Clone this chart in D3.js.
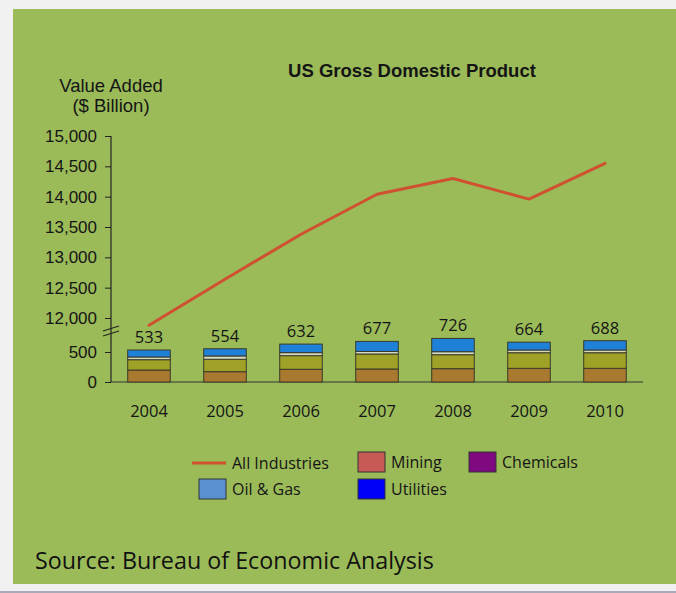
<!DOCTYPE html>
<html><head><meta charset="utf-8">
<script src="https://cdn.jsdelivr.net/npm/d3@7"></script>
<style>html,body{margin:0;padding:0;background:#f0f0f0;}svg{display:block;}</style>
</head><body>
<svg id="c" width="676" height="593"></svg>
<script>
const years = ["2004","2005","2006","2007","2008","2009","2010"];
const allIndustries = [11880, 12640, 13380, 14040, 14300, 13960, 14550];
const barTotals = [533, 554, 632, 677, 726, 664, 688];
const segBrown = [200, 172, 212, 217, 222, 228, 228];
const segOlive = [172, 207, 227, 250, 233, 260, 260];
const segLight = [45, 55, 50, 42, 50, 45, 45];
const upperTicks = [12000, 12500, 13000, 13500, 14000, 14500, 15000];
const lowerTicks = [0, 500];
const legendItems = ["All Industries", "Mining", "Chemicals", "Oil & Gas", "Utilities"];

const svg = d3.select("#c");
// background panel
svg.append("rect").attr("x",0).attr("y",0).attr("width",676).attr("height",593).attr("fill","#f1f1f1");
svg.append("rect").attr("x",13).attr("y",9).attr("width",663).attr("height",575).attr("fill","#9bbb59");
svg.append("line").attr("x1",0).attr("x2",676).attr("y1",592).attr("y2",592).attr("stroke","#a9a9b8").attr("stroke-width",2);

const x = d3.scaleBand().domain(years).range([111, 643]).paddingInner(0.44).paddingOuter(0.22);
const yUp = d3.scaleLinear().domain([12000, 15000]).range([318, 136]);
const yLow = d3.scaleLinear().domain([0, 500]).range([382, 352]);

const fontSans = "'Liberation Sans', Arial, sans-serif";
const fontBody = "'Open Sans', sans-serif";
const ink = "#151515";

// title
svg.append("text").attr("x",412).attr("y",77).attr("text-anchor","middle")
  .attr("font-family",fontSans).attr("font-weight","bold").attr("font-size",18.5).attr("fill",ink)
  .text("US Gross Domestic Product");
svg.append("text").attr("x",111).attr("y",92).attr("text-anchor","middle")
  .attr("font-family",fontSans).attr("font-size",18.5).attr("fill",ink).text("Value Added");
svg.append("text").attr("x",111).attr("y",112).attr("text-anchor","middle")
  .attr("font-family",fontSans).attr("font-size",18.5).attr("fill",ink).text("($ Billion)");

// axes
const axUp = svg.append("g").attr("transform","translate(111,0)")
  .call(d3.axisLeft(yUp).tickValues(upperTicks).tickFormat(d3.format(",")).tickSize(6).tickSizeOuter(0));
const axLow = svg.append("g").attr("transform","translate(111,0)")
  .call(d3.axisLeft(yLow).tickValues(lowerTicks).tickFormat(d3.format(",")).tickSize(6).tickSizeOuter(0));
[axUp, axLow].forEach(a => {
  a.select(".domain").remove();
  a.selectAll("line").attr("stroke","#222");
  a.selectAll("text").attr("font-family",fontSans).attr("font-size",17).attr("fill",ink).attr("x",-14);
});
svg.append("line").attr("x1",111).attr("x2",111).attr("y1",yUp(15000)).attr("y2",yLow(0)).attr("stroke","#222").attr("stroke-width",1.2);
// break marks
[0, 5].forEach(o => {
  svg.append("line").attr("x1",103).attr("x2",119).attr("y1",331+o).attr("y2",326+o).attr("stroke","#222").attr("stroke-width",1.2);
});
// baseline
svg.append("line").attr("x1",111).attr("x2",643).attr("y1",yLow(0)).attr("y2",yLow(0)).attr("stroke","#333").attr("stroke-width",1.2);

// stacked bars
const barData = years.map((yr,i) => ({year: yr, brown: segBrown[i], olive: segOlive[i], light: segLight[i],
  blue: barTotals[i] - segBrown[i] - segOlive[i] - segLight[i]}));
const keys = ["brown","olive","light","blue"];
const colors = {brown:"#a8792f", olive:"#9fa226", light:"#d5dbc0", blue:"#1f80d8"};
const stacked = d3.stack().keys(keys)(barData);
const gBars = svg.append("g");
stacked.forEach(layer => {
  gBars.selectAll(null).data(layer).enter().append("rect")
    .attr("x", d => x(d.data.year)).attr("width", x.bandwidth())
    .attr("y", d => yLow(d[1])).attr("height", d => yLow(d[0]) - yLow(d[1]))
    .attr("fill", colors[layer.key]).attr("stroke","#3a3a2a").attr("stroke-width",1);
});

// value labels
svg.append("g").selectAll("text").data(years).enter().append("text")
  .attr("x", d => x(d) + x.bandwidth()/2).attr("y", (d,i) => yLow(barTotals[i]) - 7)
  .attr("text-anchor","middle").attr("font-family",fontBody).attr("font-size",16.5).attr("fill",ink)
  .text((d,i) => barTotals[i]);

// year labels
svg.append("g").selectAll("text").data(years).enter().append("text")
  .attr("x", d => x(d) + x.bandwidth()/2).attr("y", 417)
  .attr("text-anchor","middle").attr("font-family",fontBody).attr("font-size",16.5).attr("fill",ink)
  .text(d => d);

// line
const line = d3.line().x((d,i) => x(years[i]) + x.bandwidth()/2).y(d => yUp(d));
svg.append("path").datum(allIndustries).attr("d", line).attr("fill","none")
  .attr("stroke","#cf5130").attr("stroke-width",3).attr("stroke-linejoin","round").attr("stroke-linecap","round");

// legend
const lg = svg.append("g").attr("font-family",fontBody).attr("font-size",16).attr("fill",ink);
lg.append("line").attr("x1",192).attr("x2",226).attr("y1",463).attr("y2",463).attr("stroke","#cf5130").attr("stroke-width",3);
lg.append("text").attr("x",232).attr("y",469).text(legendItems[0]);
const swatches = [
  {name: legendItems[1], x: 358, y: 452, c: "#c75a55"},
  {name: legendItems[2], x: 469, y: 452, c: "#7f0a80"},
  {name: legendItems[3], x: 199, y: 479, c: "#5a8fd0"},
  {name: legendItems[4], x: 358, y: 479, c: "#0000f8"}
];
swatches.forEach(s => {
  lg.append("rect").attr("x",s.x).attr("y",s.y).attr("width",27).attr("height",20).attr("fill",s.c).attr("stroke","#333").attr("stroke-width",1);
  lg.append("text").attr("x",s.x+33).attr("y",s.y+16).text(s.name);
});

// source
svg.append("text").attr("x",35).attr("y",569).attr("font-family",fontBody).attr("font-size",23.3).attr("fill","#111")
  .text("Source: Bureau of Economic Analysis");
</script>
</body></html>
